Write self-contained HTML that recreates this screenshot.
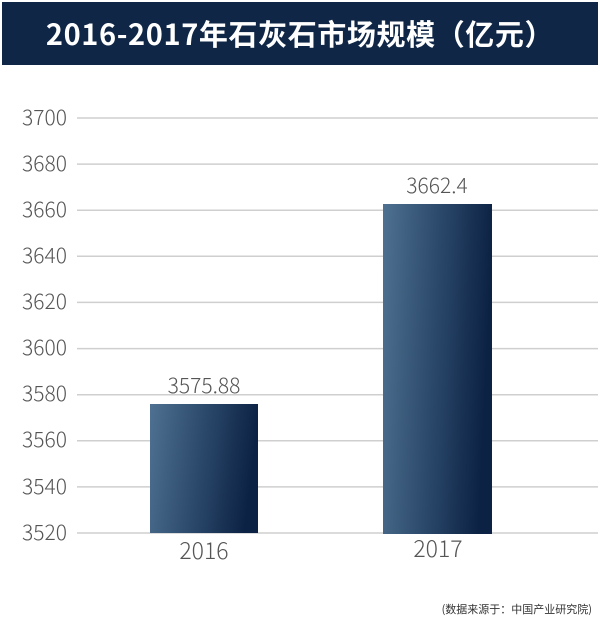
<!DOCTYPE html>
<html><head><meta charset="utf-8"><style>
body{margin:0;background:#fff;width:600px;height:625px;position:relative;overflow:hidden;font-family:"Liberation Sans","Noto Sans CJK SC",sans-serif}
.hdr{position:absolute;left:2px;top:2px;width:596px;height:63px;background:#0f2646;color:#fff;font-family:"Noto Sans CJK SC",sans-serif;font-weight:bold;font-size:29px;text-align:center;line-height:63px;letter-spacing:0.6px}
</style></head><body>
<div class="hdr">2016-2017年石灰石市场规模（亿元）</div>
<svg width="600" height="625" style="position:absolute;left:0;top:0">
<defs><linearGradient id="g" x1="0" y1="0" x2="1" y2="0.15">
<stop offset="0" stop-color="#4f7191"/><stop offset="0.5" stop-color="#2c4a6c"/><stop offset="1" stop-color="#0c2244"/></linearGradient></defs>
<g stroke="#cfcfcf" stroke-width="1.5">
<line x1="77" x2="598" y1="118" y2="118"/><line x1="77" x2="598" y1="164.1" y2="164.1"/>
<line x1="77" x2="598" y1="210.2" y2="210.2"/><line x1="77" x2="598" y1="256.3" y2="256.3"/>
<line x1="77" x2="598" y1="302.4" y2="302.4"/><line x1="77" x2="598" y1="348.6" y2="348.6"/>
<line x1="77" x2="598" y1="394.7" y2="394.7"/><line x1="77" x2="598" y1="440.8" y2="440.8"/>
<line x1="77" x2="598" y1="486.9" y2="486.9"/><line x1="77" x2="598" y1="533" y2="533"/>
</g>
<g fill="#555" font-size="21" font-weight="300" text-anchor="end" font-family="Noto Sans CJK SC,sans-serif">
<text x="67" y="125">3700</text><text x="67" y="171">3680</text><text x="67" y="217">3660</text>
<text x="67" y="263">3640</text><text x="67" y="309">3620</text><text x="67" y="355">3600</text>
<text x="67" y="401">3580</text><text x="67" y="447">3560</text><text x="67" y="494">3540</text>
<text x="67" y="540">3520</text>
</g>
<rect x="150" y="404" width="108" height="129" fill="url(#g)"/>
<rect x="383" y="204" width="109" height="330" fill="url(#g)"/>
<g fill="#555" font-size="21" font-weight="300" text-anchor="middle" font-family="Noto Sans CJK SC,sans-serif">
<text x="204" y="393">3575.88</text><text x="437" y="193">3662.4</text>
<text x="204" y="559" font-size="23">2016</text><text x="438" y="557" font-size="23">2017</text>
</g>
<text x="592" y="613" text-anchor="end" font-size="11" fill="#333" font-family="Noto Sans CJK SC,sans-serif">(数据来源于：中国产业研究院)</text>
</svg>
</body></html>
